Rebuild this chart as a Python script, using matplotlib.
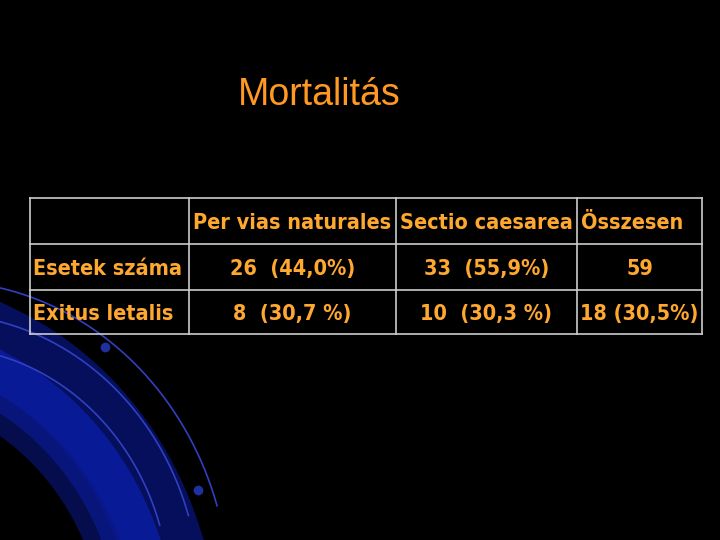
import matplotlib.pyplot as plt
import numpy as np

title = "Mortalitás"
col_labels = ["", "Per vias naturales", "Sectio caesarea", "Összesen"]
row_labels = ["Esetek száma", "Exitus letalis"]
cases = ["26  (44,0%)", "33  (55,9%)", "59"]
deaths = ["8  (30,7 %)", "10  (30,3 %)", "18 (30,5%)"]

fig = plt.figure(figsize=(7.2, 5.4), dpi=100, facecolor="black")
ax = fig.add_axes([0, 0, 1, 1])
ax.set_xlim(0, 720)
ax.set_ylim(540, 0)
ax.axis("off")
ax.set_facecolor("black")

# decorative blue swoosh bottom-left
for r, lw, c in [(330, 60, "#0a1a9a"), (300, 40, "#0d22c0"), (270, 25, "#0a1680")]:
    t = np.linspace(-0.2, 1.4, 200)
    ax.plot(-120 + r * np.cos(t) * 0.9, 650 - r * np.sin(t) * 1.0, color=c, lw=lw, alpha=0.6)
for r in [230, 260, 290]:
    t = np.linspace(0.3, 1.5, 200)
    ax.plot(-60 + r * np.cos(t), 600 - r * np.sin(t) * 1.1, color="#3040c0", lw=1.2)
ax.plot([105, 198], [347, 490], "o", color="#2030a0", ms=6)

ax.text(238, 95, title, color="#FF9922", fontsize=27, va="center", ha="left",
        fontfamily="Liberation Sans")

xs = [30, 189, 396, 577, 702]
ys = [198, 244, 290, 334]
txt = "#FFA830"
font = dict(color=txt, fontsize=15.5, fontweight="bold", fontfamily="DejaVu Sans",
            fontstretch="condensed", va="center")
for x in xs:
    ax.plot([x, x], [ys[0], ys[-1]], color="#cccccc", lw=1.2)
for y in ys:
    ax.plot([xs[0], xs[-1]], [y, y], color="#cccccc", lw=1.2)

for j, lab in enumerate(col_labels[1:]):
    ax.text(xs[j + 1] + 4, (ys[0] + ys[1]) / 2 + 2, lab, ha="left", **font)
for i, (lab, vals) in enumerate(zip(row_labels, [cases, deaths])):
    yc = (ys[i + 1] + ys[i + 2]) / 2 + 2
    ax.text(xs[0] + 3, yc, lab, ha="left", **font)
    for j, v in enumerate(vals):
        ax.text((xs[j + 1] + xs[j + 2]) / 2, yc, v, ha="center", **font)

fig.savefig("out.png", dpi=100, facecolor="black")
